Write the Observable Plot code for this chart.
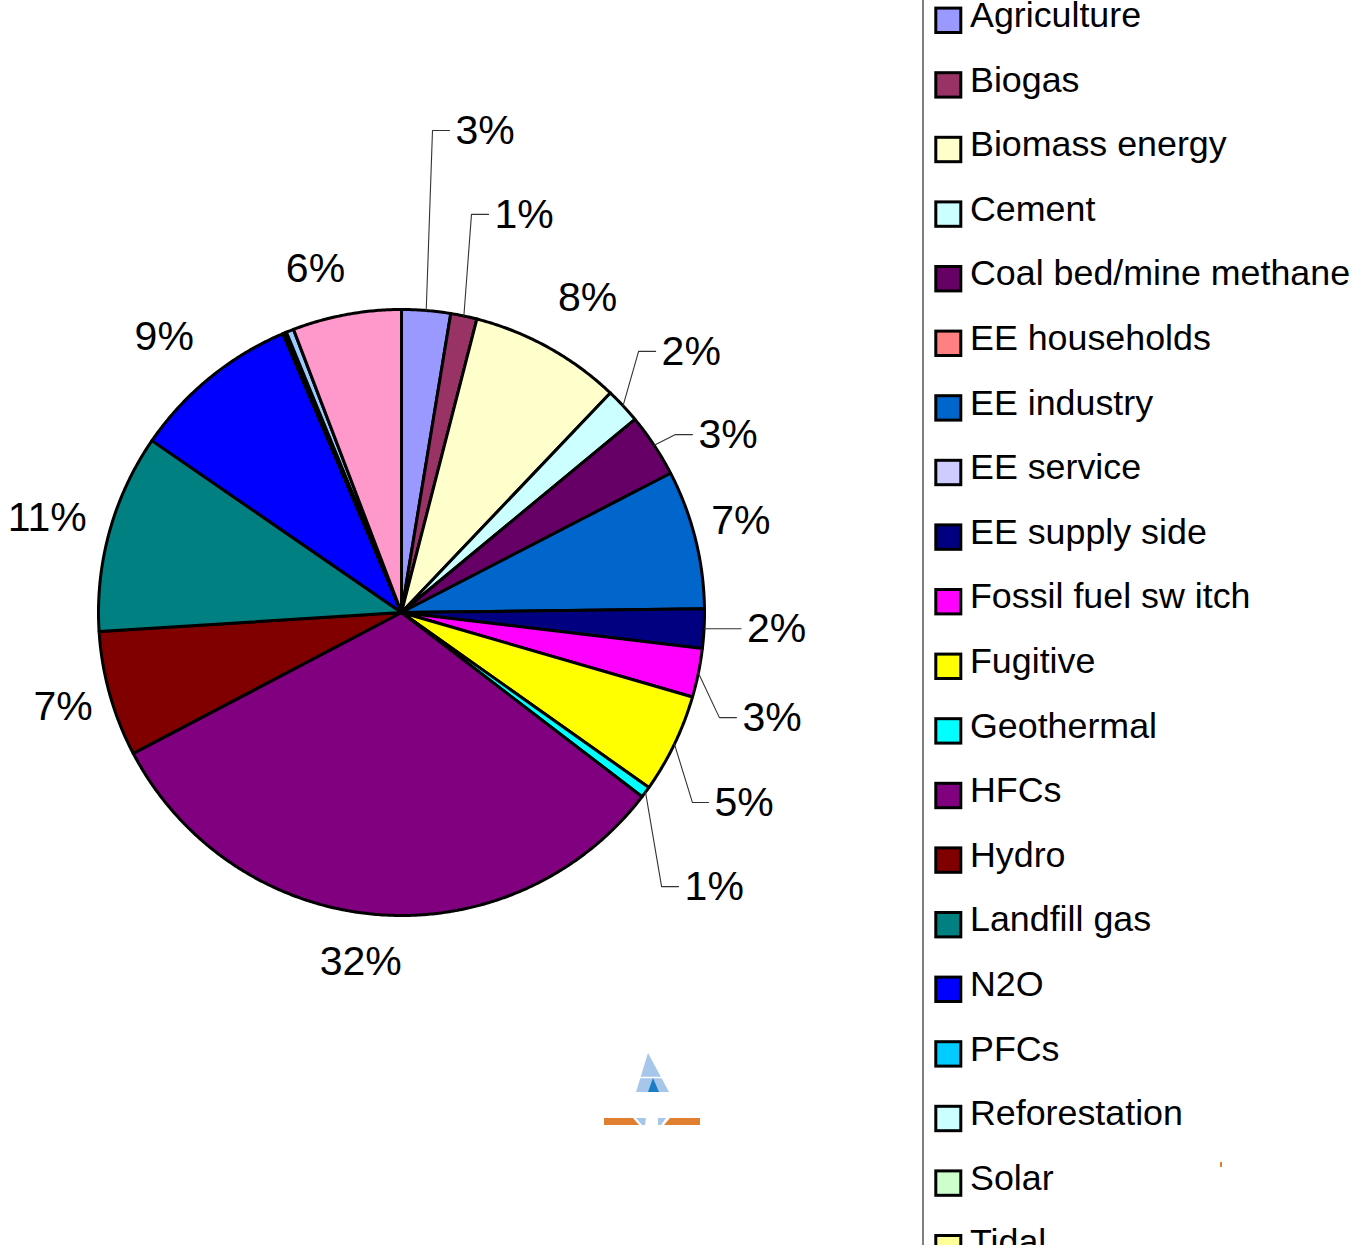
<!DOCTYPE html>
<html><head><meta charset="utf-8">
<script src="https://cdn.jsdelivr.net/npm/d3@7"></script>
<script src="https://cdn.jsdelivr.net/npm/@observablehq/plot@0.6"></script>
<style>
html,body{margin:0;padding:0;background:#fff;}
#wrap{position:relative;width:1351px;height:1245px;overflow:hidden;font-family:"Liberation Sans",Arial,sans-serif;}
#chart{position:absolute;left:0;top:0;}
#over{position:absolute;left:0;top:0;}
</style></head>
<body>
<div id="wrap"><div id="chart"></div><svg id="over" width="1351" height="1245"></svg></div>
<script>
// ---- data ----
const categories = ["Agriculture","Biogas","Biomass energy","Cement","Coal bed/mine methane","EE households","EE industry","EE service","EE supply side","Fossil fuel sw itch","Fugitive","Geothermal","HFCs","Hydro","Landfill gas","N2O","PFCs","Reforestation","Solar","Tidal","Transport","Wind"];
const shares = [2.6,1.4,8.1,1.9,3.4,0,7.4,0,2.1,2.6,5.3,0.6,31.9,6.7,10.6,9.0,0.1,0.05,0.03,0.02,0.4,5.8];
const colors = ["#9999FF","#993366","#FFFFCC","#CCFFFF","#660066","#FF8080","#0066CC","#CCCCFF","#000080","#FF00FF","#FFFF00","#00FFFF","#800080","#800000","#008080","#0000FF","#00CCFF","#CCFFFF","#CCFFCC","#FFFF99","#99CCFF","#FF99CC"];

// ---- layout ----
const W = 1351, H = 1245, cx = 401, cy = 612, R = 303;
const FONT = "'Liberation Sans', Arial, sans-serif";
// leader-line labels: elbow in polar (deg clockwise from top, radius units), horizontal tail length px
const leaderLayout = {
  "Agriculture": {a: 3.68, r: 1.594, len: 17},
  "Biogas": {a: 9.97, r: 1.334, len: 17},
  "Cement": {a: 42.24, r: 1.164, len: 17},
  "Coal bed/mine methane": {a: 57.0, r: 1.078, len: 17},
  "EE supply side": {a: null, r: 1.0, len: 37},
  "Fossil fuel sw itch": {a: 108.3, r: 1.105, len: 17},
  "Fugitive": {a: 123.15, r: 1.147, len: 16},
  "Geothermal": {a: 136.5, r: 1.247, len: 17}
};
// plain labels: angle nudge from slice middle and radius
const plainLayout = {
  "Biomass energy": {da: 1.6, r: 1.207},
  "EE industry": {da: -1.0, r: 1.16},
  "HFCs": {da: 1.8, r: 1.16},
  "Hydro": {da: 0, r: 1.16},
  "Landfill gas": {da: -0.6, r: 1.21},
  "N2O": {da: -1.5, r: 1.2},
  "Wind": {da: -3.6, r: 1.17}
};

const total = d3.sum(shares);
let acc = 0;
const slices = categories.map((name, i) => {
  const a0 = acc / total * 360; acc += shares[i]; const a1 = acc / total * 360;
  return {name, value: shares[i], a0, a1, mid: (a0 + a1) / 2};
});
const polar = (deg, r) => [r * Math.sin(deg * Math.PI / 180), r * Math.cos(deg * Math.PI / 180)];

const pts = [];
for (const s of slices) {
  if (s.value <= 0) continue;
  pts.push({name: s.name, x: 0, y: 0});
  const n = Math.max(2, Math.ceil((s.a1 - s.a0) / 0.4));
  for (let k = 0; k <= n; k++) {
    const [x, y] = polar(s.a0 + (s.a1 - s.a0) * k / n, 1);
    pts.push({name: s.name, x, y});
  }
}

const leaderPts = [], leaderLabels = [], plainLabels = [];
for (const s of slices) {
  if (s.value < 0.5) continue;
  const text = Math.round(s.value / total * 100) + "%";
  if (leaderLayout[s.name]) {
    const L = leaderLayout[s.name];
    const [ex, ey] = polar(s.mid, 1);
    const [bx, by] = L.a == null ? [ex, ey] : polar(L.a, L.r);
    const tx = bx + L.len / R;
    leaderPts.push({name: s.name, x: ex, y: ey}, {name: s.name, x: bx, y: by}, {name: s.name, x: tx, y: by});
    leaderLabels.push({text, x: tx, y: by});
  } else if (plainLayout[s.name]) {
    const P = plainLayout[s.name];
    const [x, y] = polar(s.mid + P.da, P.r);
    plainLabels.push({text, x, y});
  }
}

const chart = Plot.plot({
  width: W, height: H,
  marginTop: 0, marginRight: 0, marginBottom: 0, marginLeft: 0,
  x: {type: "linear", domain: [-cx / R, (W - cx) / R], range: [0, W], axis: null},
  y: {type: "linear", domain: [cy / R, (cy - H) / R], range: [0, H], axis: null},
  color: {domain: categories, range: colors},
  style: {fontFamily: FONT, background: "transparent", color: "#000"},
  marks: [
    Plot.line(pts, {x: "x", y: "y", z: "name", fill: "name", stroke: "#000", strokeWidth: 3, strokeLinejoin: "round", curve: "linear-closed"}),
    Plot.line(leaderPts, {x: "x", y: "y", z: "name", stroke: "#333", strokeWidth: 1.1}),
    Plot.text(leaderLabels, {x: "x", y: "y", text: "text", fontSize: 41, textAnchor: "start", dx: 6, fill: "#000"}),
    Plot.text(plainLabels, {x: "x", y: "y", text: "text", fontSize: 41, textAnchor: "middle", fill: "#000"})
  ]
});
document.getElementById("chart").appendChild(chart);

// ---- legend (right side, clipped like the original) ----
const over = d3.select("#over");
over.append("rect").attr("x", 922).attr("y", 0).attr("width", 2).attr("height", H).attr("fill", "#808080");
const step = 64.6, c0 = 20.3;
categories.forEach((name, i) => {
  const c = c0 + i * step;
  over.append("rect").attr("x", 935.8).attr("y", c - 12.2).attr("width", 25).attr("height", 24.4)
    .attr("fill", colors[i]).attr("stroke", "#000").attr("stroke-width", 3);
  over.append("text").attr("x", 970).attr("y", c + 6.6).attr("font-size", 35.8)
    .attr("font-family", FONT).attr("fill", "#000").text(name);
});

// ---- small logo artefact ----
const g = over.append("g");
g.append("polygon").attr("points", "648,1053 636,1092 669,1092").attr("fill", "#a6c6ea");
g.append("line").attr("x1", 636).attr("x2", 670).attr("y1", 1077.5).attr("y2", 1077.5).attr("stroke", "#fff").attr("stroke-width", 1.5);
g.append("polygon").attr("points", "653,1078 648,1092 659,1092").attr("fill", "#1b7dc4");
g.append("polygon").attr("points", "604,1118 633,1118 639,1125 604,1125").attr("fill", "#e07f30");
g.append("polygon").attr("points", "636,1118 646,1118 645,1125 642,1125").attr("fill", "#a6c6ea");
g.append("polygon").attr("points", "658,1118 666,1118 661,1125 658,1125").attr("fill", "#a6c6ea");
g.append("polygon").attr("points", "670,1118 700,1118 700,1125 664,1125").attr("fill", "#e07f30");
g.append("rect").attr("x", 1220).attr("y", 1162).attr("width", 2).attr("height", 5).attr("fill", "#e07f30");
</script>
</body></html>
